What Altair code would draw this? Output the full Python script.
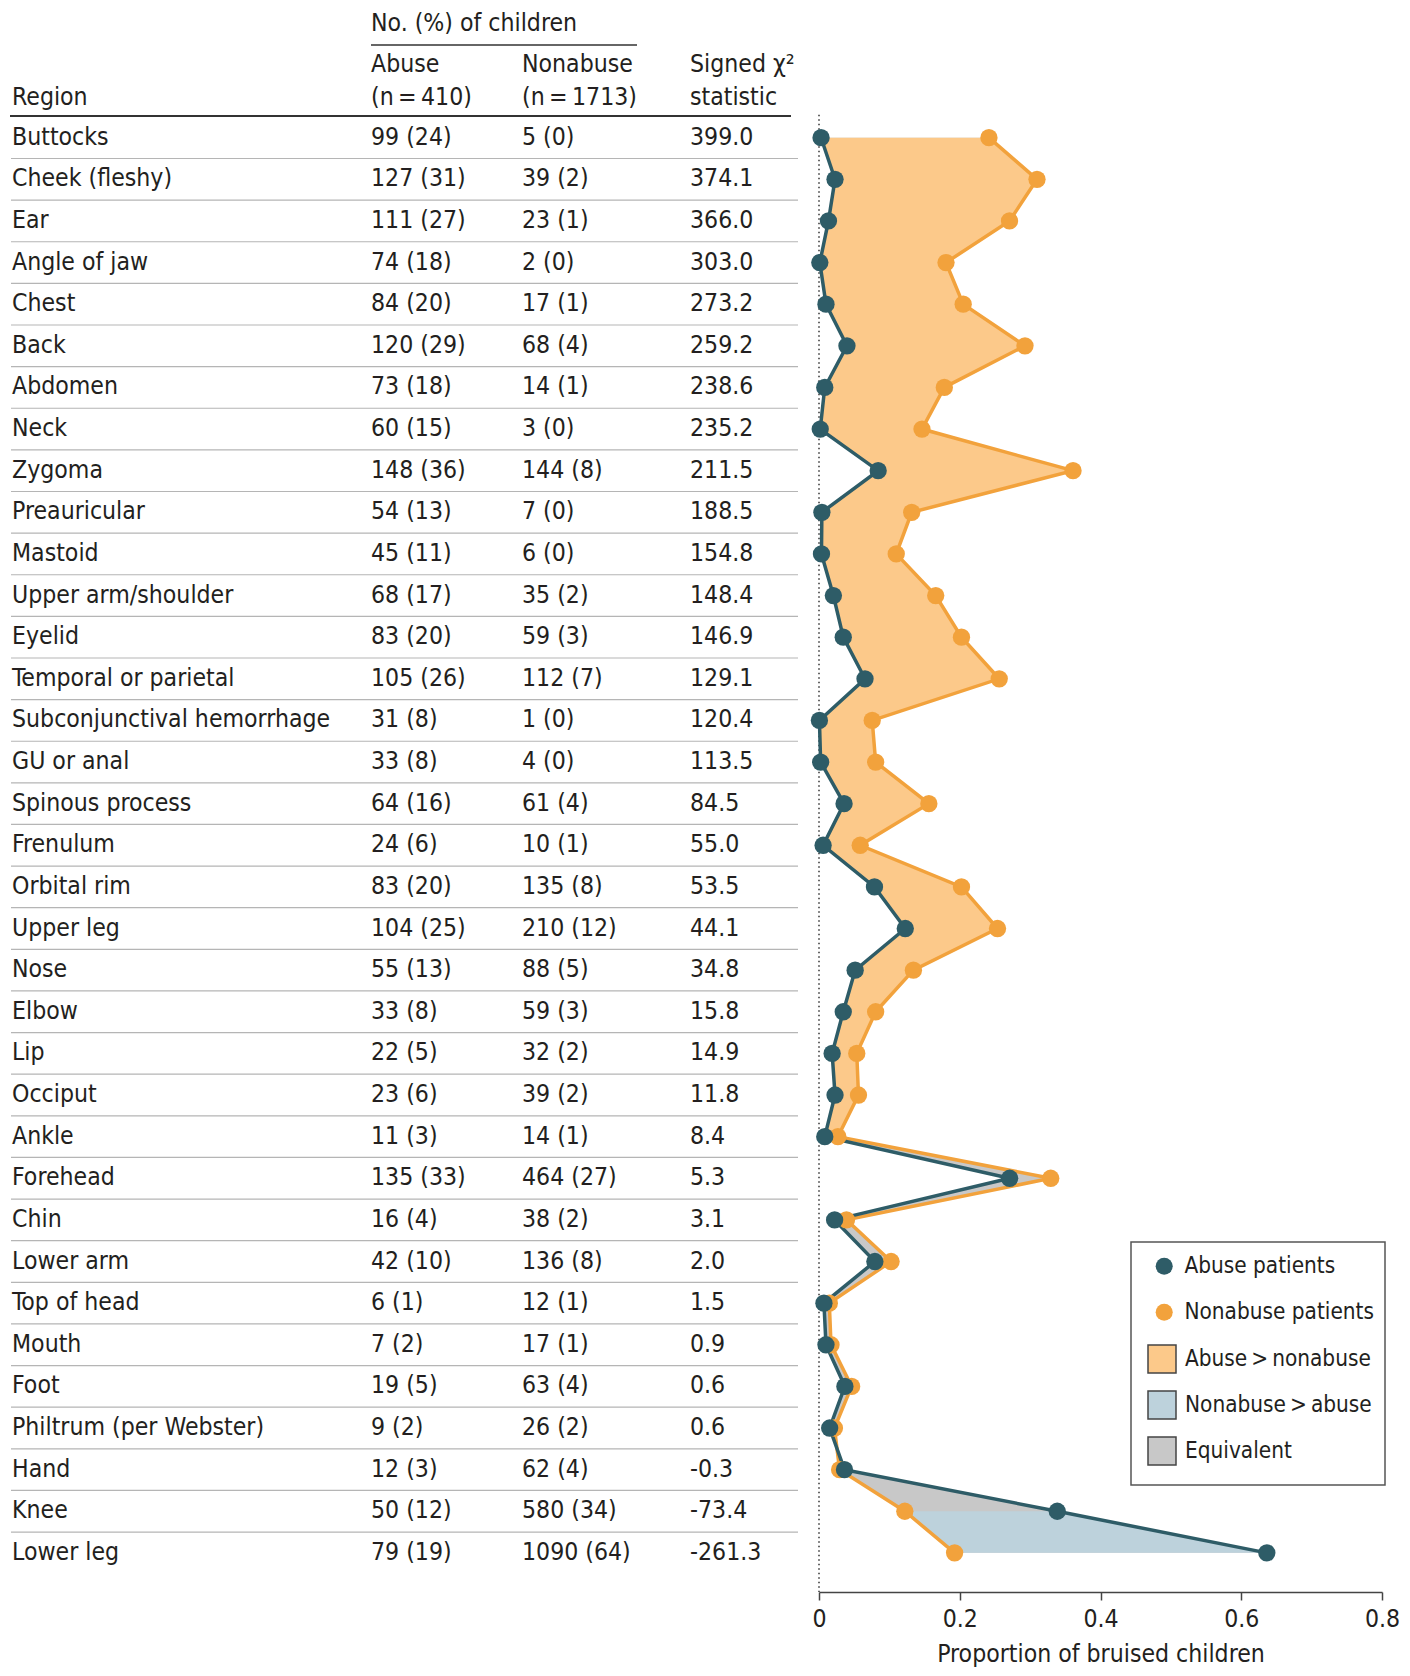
import altair as alt
import pandas as pd

# ---------------- data ----------------
regions = ["Buttocks", "Cheek (fleshy)", "Ear", "Angle of jaw", "Chest", "Back", "Abdomen", "Neck",
           "Zygoma", "Preauricular", "Mastoid", "Upper arm/shoulder", "Eyelid", "Temporal or parietal",
           "Subconjunctival hemorrhage", "GU or anal", "Spinous process", "Frenulum", "Orbital rim",
           "Upper leg", "Nose", "Elbow", "Lip", "Occiput", "Ankle", "Forehead", "Chin", "Lower arm",
           "Top of head", "Mouth", "Foot", "Philtrum (per Webster)", "Hand", "Knee", "Lower leg"]
abuse_n = [99, 127, 111, 74, 84, 120, 73, 60, 148, 54, 45, 68, 83, 105, 31, 33, 64, 24, 83, 104,
           55, 33, 22, 23, 11, 135, 16, 42, 6, 7, 19, 9, 12, 50, 79]
abuse_pct = [24, 31, 27, 18, 20, 29, 18, 15, 36, 13, 11, 17, 20, 26, 8, 8, 16, 6, 20, 25,
             13, 8, 5, 6, 3, 33, 4, 10, 1, 2, 5, 2, 3, 12, 19]
nonabuse_n = [5, 39, 23, 2, 17, 68, 14, 3, 144, 7, 6, 35, 59, 112, 1, 4, 61, 10, 135, 210,
              88, 59, 32, 39, 14, 464, 38, 136, 12, 17, 63, 26, 62, 580, 1090]
nonabuse_pct = [0, 2, 1, 0, 1, 4, 1, 0, 8, 0, 0, 2, 3, 7, 0, 0, 4, 1, 8, 12,
                5, 3, 2, 2, 1, 27, 2, 8, 1, 1, 4, 2, 4, 34, 64]
chi2 = [399.0, 374.1, 366.0, 303.0, 273.2, 259.2, 238.6, 235.2, 211.5, 188.5, 154.8, 148.4, 146.9,
        129.1, 120.4, 113.5, 84.5, 55.0, 53.5, 44.1, 34.8, 15.8, 14.9, 11.8, 8.4, 5.3, 3.1, 2.0,
        1.5, 0.9, 0.6, 0.6, -0.3, -73.4, -261.3]
N_ABUSE = 410
N_NONABUSE = 1713
categories = (["Abuse\u2009>\u2009nonabuse"] * 25 + ["Equivalent"] * 8 + ["Nonabuse\u2009>\u2009abuse"] * 2)

x_ticks = [0, 0.2, 0.4, 0.6, 0.8]
dot_labels = ["Abuse patients", "Nonabuse patients"]
fill_labels = ["Abuse\u2009>\u2009nonabuse", "Nonabuse\u2009>\u2009abuse", "Equivalent"]

# ---------------- styles ----------------
FONT = "DejaVu Sans Condensed, Liberation Sans, sans-serif"
TXT = "#231f20"
TEAL = "#2e5c67"
ORANGE = "#f2a23c"
LORANGE = "#fcc98a"
LBLUE = "#bdd2dc"
GREY = "#c8c8c8"
FS = 24.6
LFS = 22.4

rows = pd.DataFrame({
    "row": list(range(len(regions))),
    "region": regions,
    "abuse_txt": [f"{n} ({p})" for n, p in zip(abuse_n, abuse_pct)],
    "nonabuse_txt": [f"{n} ({p})" for n, p in zip(nonabuse_n, nonabuse_pct)],
    "chi_txt": [f"{v:.1f}" for v in chi2],
    "p_abuse": [n / N_ABUSE for n in abuse_n],
    "p_non": [n / N_NONABUSE for n in nonabuse_n],
    "fillcat": categories,
})

# dots: as drawn in the figure, the dark dots sit at the nonabuse proportions
dots = pd.concat([
    pd.DataFrame({"row": rows["row"], "x": rows["p_non"], "cat": dot_labels[0]}),
    pd.DataFrame({"row": rows["row"], "x": rows["p_abuse"], "cat": dot_labels[1]}),
], ignore_index=True)

Y_DOMAIN = [-3.26, 34.94]
H = 1590
yscale = alt.Scale(domain=Y_DOMAIN, reverse=True, nice=False, zero=False)
Y = alt.Y("row:Q", scale=yscale, axis=None)

# ---------------- table panel ----------------
def col_text(field, x):
    return alt.Chart(rows).mark_text(align="left", baseline="middle", font=FONT, fontSize=FS,
                                     color=TXT).encode(x=alt.value(x), y=Y, text=f"{field}:N")

def head(text, x, y):
    return alt.Chart(alt.Data(values=[{"t": text}])).mark_text(
        align="left", baseline="middle", font=FONT, fontSize=FS, color=TXT
    ).encode(x=alt.value(x), y=alt.value(y), text="t:N")

one = alt.Data(values=[{"a": 1}])
sep = alt.Chart(rows).transform_filter("datum.row < 34").transform_calculate(
    ys="datum.row + 0.5").mark_rule(color="#b5b5b5", strokeWidth=1.2).encode(
    x=alt.value(11), x2=alt.value(798), y=alt.Y("ys:Q", scale=yscale, axis=None))
thick = alt.Chart(one).mark_rule(color="#333", strokeWidth=2).encode(
    x=alt.value(10), x2=alt.value(791), y=alt.value(114))
under = alt.Chart(one).mark_rule(color="#333", strokeWidth=1.5).encode(
    x=alt.value(371), x2=alt.value(637), y=alt.value(43))

table = alt.layer(
    sep, thick, under,
    head("No. (%) of children", 371, 22),
    head("Abuse", 371, 63), head("(n\u2009=\u2009410)", 371, 96),
    head("Nonabuse", 522, 63), head("(n\u2009=\u20091713)", 522, 96),
    head("Signed \u03c7\u00b2", 690, 63), head("statistic", 690, 96),
    head("Region", 12, 96),
    col_text("region", 12), col_text("abuse_txt", 371),
    col_text("nonabuse_txt", 522), col_text("chi_txt", 690),
).properties(width=810, height=H)

# ---------------- plot panel ----------------
xscale = alt.Scale(domain=[0, 0.8], nice=False, zero=False)
xaxis = alt.Axis(values=x_ticks, labelExpr="datum.value == 0 ? '0' : format(datum.value, '.1f')",
                 title="Proportion of bruised children", grid=False, domainColor="#444",
                 domainWidth=1.5, tickColor="#444", tickWidth=1.5, tickSize=8, labelFont=FONT,
                 labelFontSize=FS, labelColor=TXT, labelPadding=7, labelFlush=False,
                 titleFont=FONT, titleFontSize=FS, titleFontWeight="normal", titleColor=TXT,
                 titlePadding=12)

dot_legend = alt.Legend(
    title=None, orient="none", legendX=1153, legendY=1253, padding=0,
    labelFont=FONT, labelFontSize=LFS, labelColor=TXT, labelLimit=400, symbolType="circle",
    symbolSize=290, symbolStrokeWidth=0, symbolOpacity=1, rowPadding=23, labelOffset=9)
fill_legend = alt.Legend(
    title=None, orient="none", legendX=1147, legendY=1342, padding=0,
    labelFont=FONT, labelFontSize=LFS, labelColor=TXT, labelLimit=400, symbolType="square",
    symbolSize=784, symbolStrokeColor="#444", symbolStrokeWidth=1.5, symbolOpacity=1,
    rowPadding=12, labelOffset=8)

X = lambda f: alt.X(f, scale=xscale, axis=xaxis)

zero_rule = alt.Chart(one).transform_calculate(z="0", y0="-0.55", y1=str(Y_DOMAIN[1])).mark_rule(
    color="#333", strokeWidth=1.5, strokeDash=[1.5, 3]).encode(
    x=X("z:Q"), y=alt.Y("y0:Q", scale=yscale, axis=None), y2="y1:Q")

fscale = alt.Scale(domain=fill_labels, range=[LORANGE, LBLUE, GREY])

# base grey fill between the two profiles (covers the "equivalent" stretch)
grey_area = alt.Chart(rows).mark_area(orient="horizontal", opacity=1, color=GREY).encode(
    y=Y, x=X("p_abuse:Q"), x2="p_non:Q")

def area(cat):
    return alt.Chart(rows).transform_filter(f"datum.fillcat == '{cat}'").mark_area(
        orient="horizontal", opacity=1).encode(
        y=Y, x=X("p_abuse:Q"), x2="p_non:Q",
        fill=alt.Fill("fillcat:N", scale=fscale, legend=fill_legend))

orange_area = area(fill_labels[0])
blue_area = area(fill_labels[1])

orange_line = alt.Chart(rows).mark_line(color=ORANGE, strokeWidth=3.5).encode(
    y=Y, x=X("p_abuse:Q"), order="row:Q")
teal_line = alt.Chart(rows).mark_line(color=TEAL, strokeWidth=3.5).encode(
    y=Y, x=X("p_non:Q"), order="row:Q")
points = alt.Chart(dots).mark_point(filled=True, size=300, opacity=1, strokeWidth=0).encode(
    y=Y, x=X("x:Q"),
    color=alt.Color("cat:N", scale=alt.Scale(domain=dot_labels, range=[TEAL, ORANGE]),
                    legend=dot_legend),
    order=alt.Order("cat:N", sort="descending"))

legend_box = alt.Chart(one).mark_rect(fill="white", stroke="#555", strokeWidth=1.5).encode(
    x=alt.value(312), x2=alt.value(566), y=alt.value(1240), y2=alt.value(1483))

plot = alt.layer(zero_rule, grey_area, orange_area, blue_area, orange_line, teal_line, points,
                 legend_box).properties(width=563, height=H)

chart = alt.hconcat(table, plot, spacing=0).properties(
    padding={"left": 0, "top": 2, "right": 0, "bottom": 0}
).configure(font=FONT).configure_view(stroke="transparent", strokeWidth=0)

chart.save("out.html", embed_options={"renderer": "svg", "actions": False})
